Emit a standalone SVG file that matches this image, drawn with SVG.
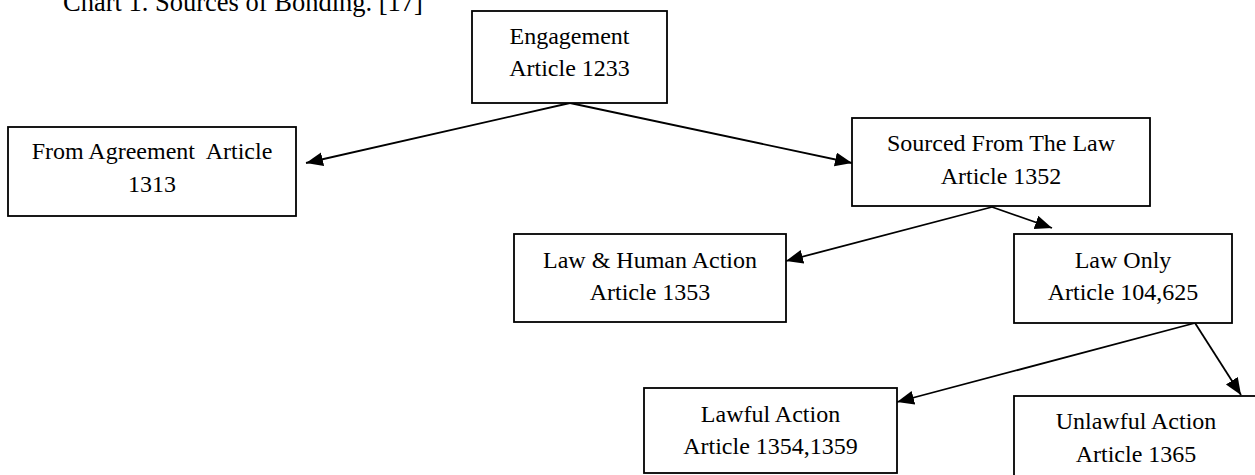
<svg xmlns="http://www.w3.org/2000/svg" width="1255" height="475" viewBox="0 0 1255 475">
<style>
  .box { fill: #fff; stroke: #000; stroke-width: 1.8; }
  .t { font-family: "Liberation Serif", "Times New Roman", serif; font-size: 24px; fill: #000; text-anchor: middle; }
  .title { font-family: "Liberation Serif", "Times New Roman", serif; font-size: 26.5px; fill: #000; }
  .c { stroke: #000; stroke-width: 1.8; fill: none; marker-end: url(#arr); }
</style>
<defs>
  <marker id="arr" markerUnits="userSpaceOnUse" markerWidth="19" markerHeight="15" refX="17" refY="7" orient="auto">
    <path d="M0,0 L17,7 L0,14 z" fill="#000"/>
  </marker>
</defs>
<rect width="1255" height="475" fill="#fff"/>
<text class="title" x="63" y="11">Chart 1. Sources of Bonding. [17]</text>
<g id="connectors">
  <line class="c" x1="570" y1="103" x2="306" y2="163"/>
  <line class="c" x1="570" y1="103" x2="852" y2="163"/>
  <line class="c" x1="992" y1="207" x2="1052" y2="228"/>
  <line class="c" x1="992" y1="207" x2="786" y2="261"/>
  <line class="c" x1="1195" y1="323" x2="897" y2="402"/>
  <line class="c" x1="1195" y1="323" x2="1241" y2="395"/>
</g>
<g id="engagement">
  <rect class="box" x="472" y="11" width="195" height="92"/>
  <text class="t" x="569.5" y="44">Engagement</text>
  <text class="t" x="569.5" y="76">Article 1233</text>
</g>
<g id="agreement">
  <rect class="box" x="8" y="127" width="288" height="89"/>
  <text class="t" x="152" y="159" xml:space="preserve">From Agreement  Article</text>
  <text class="t" x="152" y="191.5">1313</text>
</g>
<g id="sourced-law">
  <rect class="box" x="852" y="118" width="298" height="88"/>
  <text class="t" x="1001" y="150.5">Sourced From The Law</text>
  <text class="t" x="1001" y="184">Article 1352</text>
</g>
<g id="law-human">
  <rect class="box" x="514" y="234" width="272" height="88"/>
  <text class="t" x="650" y="268">Law &amp; Human Action</text>
  <text class="t" x="650" y="300">Article 1353</text>
</g>
<g id="law-only">
  <rect class="box" x="1014" y="234" width="218" height="89"/>
  <text class="t" x="1123" y="268">Law Only</text>
  <text class="t" x="1123" y="300">Article 104,625</text>
</g>
<g id="lawful">
  <rect class="box" x="644" y="388" width="253" height="85"/>
  <text class="t" x="770.5" y="421.5">Lawful Action</text>
  <text class="t" x="770.5" y="454">Article 1354,1359</text>
</g>
<g id="unlawful">
  <rect class="box" x="1014" y="396" width="246" height="90"/>
  <text class="t" x="1136" y="429">Unlawful Action</text>
  <text class="t" x="1136" y="461.5">Article 1365</text>
</g>
</svg>
